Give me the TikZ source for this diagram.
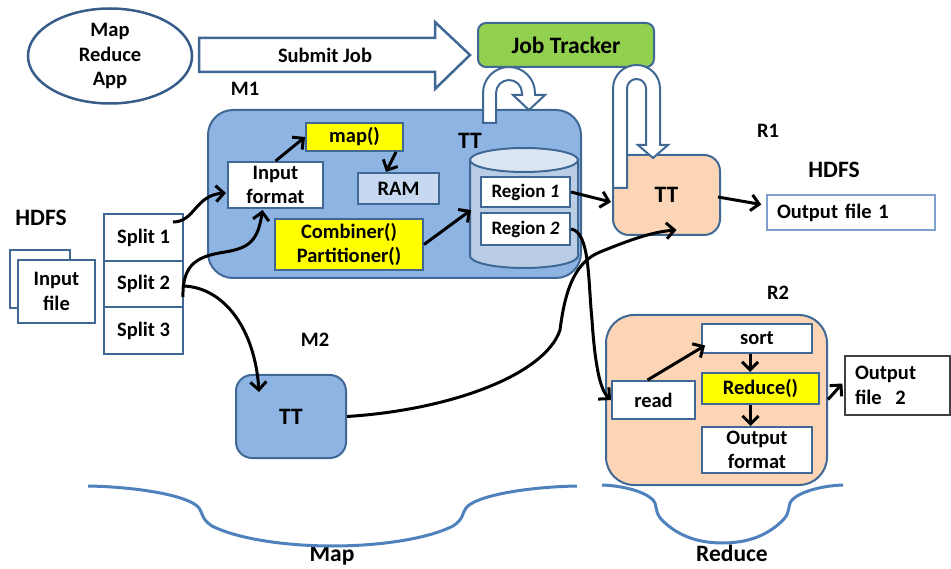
\documentclass[tikz,border=0pt]{standalone}
\usepackage{fontspec}
\setmainfont{Carlito}
\usetikzlibrary{shapes.geometric,arrows.meta,calc}
\definecolor{bord}{HTML}{3F6895}
\definecolor{ellb}{HTML}{385D8A}
\definecolor{mfill}{HTML}{8EB4E3}
\definecolor{peach}{HTML}{FBD5B5}
\definecolor{jtgreen}{HTML}{92D050}
\definecolor{ramfill}{HTML}{C6D9F1}
\definecolor{cylbody}{HTML}{B9CDE5}
\definecolor{cyltop}{HTML}{DCE6F2}
\definecolor{bracec}{HTML}{4F81BD}
\definecolor{outb}{HTML}{7F9FCF}
\definecolor{yel}{HTML}{FFFF00}
\newcommand\fA{\fontsize{20.5}{24.5}\selectfont\bfseries}
\newcommand\fB{\fontsize{23.5}{27}\selectfont\bfseries}
\tikzset{
  box/.style={draw=bord, line width=2pt, fill=white, inner sep=0pt, align=center, font=\fA},
  container/.style={draw=bord, line width=2pt, inner sep=0pt},
  uarrow/.style={draw=bord, line width=2pt, fill=white, line join=miter},
  arr/.style={line width=3pt, black, -{Straight Barb[length=8pt,width=16pt]}},
  lbl/.style={font=\fA, inner sep=0pt},
  brace/.style={draw=bracec, line width=3pt},
}
\begin{document}
\begin{tikzpicture}[x=1pt,y=-1pt]
\useasboundingbox (0,0) rectangle (951,569);

% application ellipse and submit arrow
\node[ellipse, draw=ellb, line width=2.5pt, minimum width=164pt, minimum height=95pt,
      inner sep=0pt, align=center, font=\fA] (app) at (110,56) {Map\\Reduce\\App};
\draw[uarrow, line width=2.5pt] (199,38) -- (435,38) -- (435,22) -- (470,55) -- (435,89) -- (435,72) -- (199,72) -- cycle;
\node[lbl] (submit) at (325,55) {Submit Job};

% containers
\node[container, fill=mfill, minimum width=373pt, minimum height=168pt, rounded corners=25pt] (m1) at (394.5,194) {};
\node[container, fill=peach, minimum width=107pt, minimum height=80pt, rounded corners=16pt, font=\fB] (r1) at (666.5,195) {TT};
\node[container, fill=mfill, minimum width=110pt, minimum height=83pt, rounded corners=16pt, font=\fB] (m2) at (291,416.5) {TT};
\node[container, fill=peach, minimum width=221pt, minimum height=170pt, rounded corners=28pt] (r2) at (716.5,400) {};
\node[container, fill=jtgreen, minimum width=176pt, minimum height=44pt, rounded corners=8pt, font=\fB] (jt) at (566,45) {Job Tracker};

% U-turn arrows from the job tracker
\draw[uarrow] (483,123) -- (483,93) arc[start angle=180, end angle=360, radius=26]
  -- (535,95) -- (545,95) -- (529,110) -- (513,95) -- (522,95) -- (522,93)
  arc[start angle=360, end angle=180, radius=13] -- (496,123) -- cycle;
\draw[uarrow] (613,188) -- (613,88.5) arc[start angle=180, end angle=360, radius=23.5]
  -- (660,145) -- (668,145) -- (653,158) -- (638,145) -- (646,145) -- (646,88.5)
  arc[start angle=360, end angle=180, radius=9.5] -- (627,188) -- cycle;

% labels
\node[lbl] (lm1) at (245,89) {M1};
\node[lbl] (lm2) at (315,340) {M2};
\node[lbl] (lr1) at (768,131) {R1};
\node[lbl] (lr2) at (778,293) {R2};
\node[font=\fB, inner sep=0pt] (m1tt) at (470,141) {TT};
\node[font=\fB, inner sep=0pt] (hdfsl) at (41,218) {HDFS};
\node[font=\fB, inner sep=0pt] (hdfsr) at (834,170) {HDFS};
\node[font=\fB, inner sep=0pt] (lmap) at (332,556) {Map};
\node[font=\fB, inner sep=0pt] (lred) at (732,553) {Reduce};

% M1 contents
\node[box, fill=yel, minimum width=97pt, minimum height=28pt] (map) at (354.5,137) {map()};
\node[box, minimum width=95pt, minimum height=46pt] (infmt) at (275.5,185) {Input\\format};
\node[box, fill=ramfill, minimum width=81pt, minimum height=31pt] (ram) at (398.5,188.5) {RAM};
\node[box, fill=yel, minimum width=148pt, minimum height=51pt] (comb) at (349,244.5) {Combiner()\\Partitioner()};

% cylinder
\filldraw[fill=cylbody, draw=bord, line width=2pt] (470,160) -- (470,256)
  arc[start angle=180, end angle=0, x radius=54, y radius=12] -- (578,160) -- cycle;
\filldraw[fill=cyltop, draw=bord, line width=2pt] (524,160) ellipse[x radius=54, y radius=12];
\coordinate (cylw) at (471,210);
\node[box, minimum width=89pt, minimum height=30pt, font=\fontsize{19}{22}\selectfont\bfseries] (reg1) at (525.5,192) {Region \textit{1}};
\node[box, minimum width=89pt, minimum height=32pt, font=\fontsize{19}{22}\selectfont\bfseries] (reg2) at (525.5,229) {Region \textit{2}};

% input file and splits
\node[box, minimum width=60pt, minimum height=58pt] (inback) at (40,279) {};
\node[box, minimum width=77pt, minimum height=63pt] (infile) at (56.5,291.5) {Input\\file};
\node[box, minimum width=79pt, minimum height=47pt] (split1) at (143.5,237.5) {Split 1};
\node[box, minimum width=79pt, minimum height=46pt] (split2) at (143.5,284) {Split 2};
\node[box, minimum width=79pt, minimum height=47pt] (split3) at (143.5,330.5) {Split 3};

% R2 contents
\node[box, minimum width=110pt, minimum height=29pt] (sort) at (757,338.5) {sort};
\node[box, fill=yel, minimum width=117pt, minimum height=31pt] (reduce) at (760.5,388.5) {Reduce()};
\node[box, minimum width=110pt, minimum height=46pt] (outfmt) at (757,450) {Output\\format};
\node[box, minimum width=83pt, minimum height=38pt] (read) at (653.5,400) {read};

% output files
\node[box, draw=outb, line width=1.5pt, minimum width=168pt, minimum height=35pt, text width=148pt,
      inner xsep=10pt, align=left] (out1) at (851,212.5) {Output file 1};
\node[box, draw=black!75, line width=1.2pt, minimum width=105pt, minimum height=59pt, text width=85pt,
      inner xsep=10pt, align=left] (out2) at (897.5,385.5) {Output\\file\ \ 2};

% connectors
\draw[arr] ($(split1.north east)+(-11,9)$) .. controls (195,222) and (195,195) .. ($(infmt.west)+(-1,8)$);
\draw[arr] ($(split2.east)+(-1,13)$) .. controls (182,262) and (200,256) .. (225,252)
  .. controls (250,248) and (258,240) .. ($(infmt.south)+(-13,1)$);
\draw[arr] (infmt.north) -- (map.west);
\draw[arr] ($(map.south east)+(-8,0)$) -- ($(ram.north west)+(29,0)$);
\draw[arr] (comb.east) -- (cylw);
\draw[arr] (reg1.east) -- ($(r1.west)+(-1,7)$);
\draw[arr] (reg2.east) .. controls (590,232) and (588,280) .. (592,320)
  .. controls (595,365) and (600,390) .. (read.west);
\draw[arr] ($(split2.east)+(0,2)$) .. controls (225,288) and (255,330) .. ($(m2.north west)+(24,18)$);
\draw[arr] (m2.east) .. controls (450,410) and (545,375) .. (560,330)
  .. controls (565,290) and (575,262) .. (600,252)
  .. controls (625,242) and (650,232) .. ($(r1.south)+(10,-6)$);
\draw[arr] ($(r1.east)+(-3,2)$) -- ($(out1.west)+(-5,-8)$);
\draw[arr] ($(read.north)+(-6,0)$) -- ($(sort.west)+(4,7)$);
\draw[arr] ($(sort.south)+(-7,0)$) -- ($(reduce.north)+(-10.5,0)$);
\draw[arr] ($(reduce.south)+(-10,0)$) -- ($(outfmt.north)+(-6.5,0)$);
\draw[arr] ($(reduce.east)+(8,11)$) -- ($(out2.west)+(-2,-2)$);

% braces
\draw[brace] (88,486) .. controls (140,487) and (190,496) .. (199,508)
  .. controls (203,513) and (201,519) .. (212,526)
  .. controls (240,540) and (290,546) .. (332.5,546)
  .. controls (375,546) and (425,540) .. (453,526)
  .. controls (464,519) and (462,513) .. (466,508)
  .. controls (475,496) and (525,487) .. (577,486);
\draw[brace] (602,485) .. controls (630,486) and (652,495) .. (655,503)
  .. controls (657,510) and (656,515) .. (664,522)
  .. controls (680,537) and (700,543) .. (722.5,543)
  .. controls (745,543) and (765,537) .. (781,522)
  .. controls (789,515) and (788,510) .. (790,503)
  .. controls (793,495) and (815,486) .. (843,485);
\end{tikzpicture}
\end{document}
